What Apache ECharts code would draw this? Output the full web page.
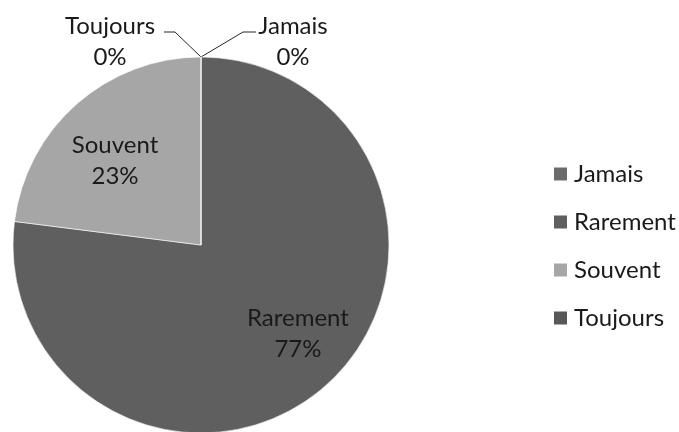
<!DOCTYPE html>
<html>
<head>
<meta charset="utf-8">
<script src="https://cdn.jsdelivr.net/npm/echarts@6/dist/echarts.min.js"></script>
<style>html,body{margin:0;padding:0;background:#fff;}#c{width:679px;height:432px;}</style>
</head>
<body>
<div id="c"></div>
<script>
var categories = ['Jamais', 'Rarement', 'Souvent', 'Toujours'];
var values = [0, 77, 23, 0];
var colors = ['#6b6b6b', '#5f5f5f', '#a6a6a6', '#585858'];

var FONT = 'Lato';
var FS = 24;
var chart = echarts.init(document.getElementById('c'));

var mainData = categories.map(function (n, i) {
  return {
    name: n, value: values[i], itemStyle: { color: colors[i] },
    label: { show: values[i] === 0 }, labelLine: { show: values[i] === 0 }
  };
});
var overlayData = categories.map(function (n, i) {
  return { name: n, value: values[i], label: { show: values[i] > 0 } };
});

function fmt(p) { return p.name + '\n' + Math.round(p.percent) + '%'; }

chart.setOption({
  animation: false,
  legend: {
    orient: 'vertical',
    left: 547,
    top: 157,
    itemWidth: 15,
    itemHeight: 15,
    itemGap: 24,
    icon: 'rect',
    data: categories,
    textStyle: { fontFamily: FONT, fontSize: FS, color: '#1a1a1a', lineHeight: 24, padding: [0, 0, 0, 1] }
  },
  series: [
    {
      type: 'pie',
      center: [201, 245],
      radius: [0, 188],
      startAngle: 90,
      clockwise: true,
      avoidLabelOverlap: false,
      silent: true,
      itemStyle: { borderColor: '#ffffff', borderWidth: 0.6 },
      data: mainData,
      label: {
        position: 'outside', formatter: fmt,
        fontFamily: FONT, fontSize: FS, lineHeight: 31, color: '#1a1a1a'
      },
      labelLine: { lineStyle: { color: '#262626', width: 1 } },
      labelLayout: function (params) {
        var p0 = params.labelLinePoints ? params.labelLinePoints[0] : [201, 57];
        var name = categories[params.dataIndex];
        if (name === 'Toujours') {
          return {
            x: p0[0] - 91, y: p0[1] - 15, align: 'center', verticalAlign: 'middle',
            labelLinePoints: [p0, [p0[0] - 26, p0[1] - 25], [p0[0] - 37, p0[1] - 25]]
          };
        }
        if (name === 'Jamais') {
          return {
            x: p0[0] + 92, y: p0[1] - 15, align: 'center', verticalAlign: 'middle',
            labelLinePoints: [p0, [p0[0] + 42, p0[1] - 25], [p0[0] + 55, p0[1] - 25]]
          };
        }
        return {};
      }
    },
    {
      type: 'pie',
      center: [201, 245],
      radius: [0, 254],
      startAngle: 90,
      clockwise: true,
      silent: true,
      itemStyle: { color: 'rgba(0,0,0,0)' },
      emphasis: { disabled: true },
      data: overlayData,
      label: {
        position: 'inside', formatter: fmt,
        fontFamily: FONT, fontSize: FS, lineHeight: 31, color: '#1a1a1a'
      },
      labelLine: { show: false },
      labelLayout: function (params) {
        var name = categories[params.dataIndex];
        if (name === 'Rarement') return { dx: 11, dy: -9 };
        if (name === 'Souvent') return { dx: 0, dy: 13 };
        return {};
      }
    }
  ]
});
</script>
</body>
</html>
